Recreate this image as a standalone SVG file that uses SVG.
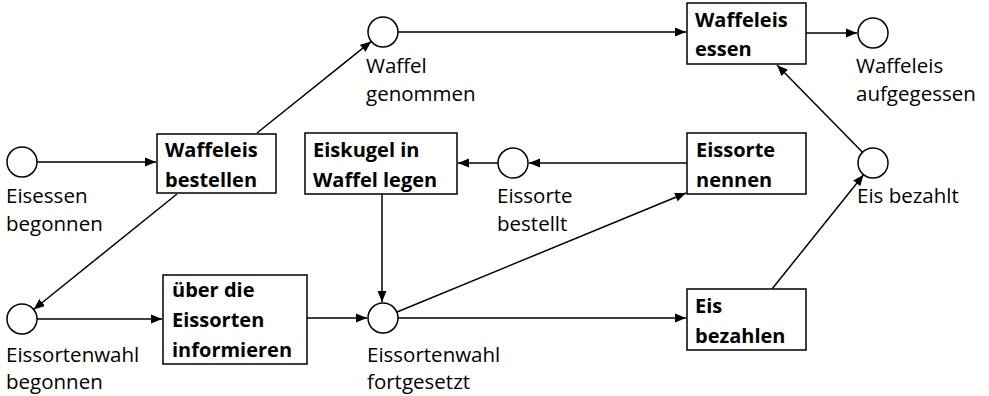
<svg xmlns="http://www.w3.org/2000/svg" width="989" height="396" viewBox="0 0 989 396">
<style>
.place{fill:#fff;stroke:#000;stroke-width:1.5}
.trans{fill:#fff;stroke:#000;stroke-width:1.5}
.tl{font-family:"Open Sans","Liberation Sans",sans-serif;font-weight:bold;font-size:20px;fill:#000}
.pl{font-family:"Open Sans","Liberation Sans",sans-serif;font-size:20.5px;fill:#000}
.arc{stroke:#000;stroke-width:1.5;fill:none;marker-end:url(#ah)}
</style>
<defs>
<marker id="ah" markerUnits="userSpaceOnUse" markerWidth="12" markerHeight="10" refX="11" refY="5" orient="auto">
<path d="M0,0.5 L11,5 L0,9.5 z" fill="#000"/>
</marker>
</defs>
<g id="connectors">
<line class="arc" x1="37" y1="162" x2="156" y2="162"/>
<line class="arc" x1="257" y1="133" x2="371.3" y2="41.4"/>
<line class="arc" x1="398" y1="32" x2="686" y2="32"/>
<line class="arc" x1="806" y1="33" x2="857" y2="33"/>
<line class="arc" x1="862.5" y1="152.3" x2="777" y2="65"/>
<line class="arc" x1="177" y1="194" x2="33.6" y2="309.5"/>
<line class="arc" x1="37" y1="319" x2="162" y2="319"/>
<line class="arc" x1="307" y1="318" x2="367" y2="318"/>
<line class="arc" x1="382" y1="194" x2="382" y2="302"/>
<line class="arc" x1="687" y1="163" x2="529" y2="163"/>
<line class="arc" x1="498" y1="163" x2="458" y2="163"/>
<line class="arc" x1="397" y1="312" x2="686" y2="193"/>
<line class="arc" x1="398" y1="318" x2="686" y2="318"/>
<line class="arc" x1="772" y1="289" x2="863.6" y2="174.7"/>
</g>
<g id="p-eisessen-begonnen">
<circle class="place" cx="22" cy="162" r="15"/>
<text class="pl" x="6" y="203">Eisessen</text>
<text class="pl" x="6" y="231">begonnen</text>
</g>
<g id="p-eissortenwahl-begonnen">
<circle class="place" cx="22" cy="319" r="15"/>
<text class="pl" x="6" y="362">Eissortenwahl</text>
<text class="pl" x="6" y="389">begonnen</text>
</g>
<g id="p-waffel-genommen">
<circle class="place" cx="383" cy="32" r="15"/>
<text class="pl" x="366" y="73">Waffel</text>
<text class="pl" x="366" y="101">genommen</text>
</g>
<g id="p-waffeleis-aufgegessen">
<circle class="place" cx="873" cy="33" r="15"/>
<text class="pl" x="856" y="73">Waffeleis</text>
<text class="pl" x="856" y="101">aufgegessen</text>
</g>
<g id="p-eis-bezahlt">
<circle class="place" cx="873" cy="163" r="15"/>
<text class="pl" x="857" y="203">Eis bezahlt</text>
</g>
<g id="p-eissorte-bestellt">
<circle class="place" cx="513" cy="163" r="15"/>
<text class="pl" x="497" y="203">Eissorte</text>
<text class="pl" x="497" y="231">bestellt</text>
</g>
<g id="p-eissortenwahl-fortgesetzt">
<circle class="place" cx="383" cy="318" r="15"/>
<text class="pl" x="367" y="362">Eissortenwahl</text>
<text class="pl" x="367" y="389">fortgesetzt</text>
</g>
<g id="t-waffeleis-bestellen">
<rect class="trans" x="157" y="134" width="119" height="59"/>
<text class="tl" x="165" y="157">Waffeleis</text>
<text class="tl" x="165" y="187">bestellen</text>
</g>
<g id="t-informieren">
<rect class="trans" x="163" y="275" width="144" height="89"/>
<text class="tl" x="172" y="297">über die</text>
<text class="tl" x="172" y="327">Eissorten</text>
<text class="tl" x="172" y="357">informieren</text>
</g>
<g id="t-waffeleis-essen">
<rect class="trans" x="687" y="3" width="119" height="61"/>
<text class="tl" x="695" y="27">Waffeleis</text>
<text class="tl" x="695" y="56">essen</text>
</g>
<g id="t-eiskugel">
<rect class="trans" x="305" y="133" width="152" height="61"/>
<text class="tl" x="313" y="157">Eiskugel in</text>
<text class="tl" x="313" y="187">Waffel legen</text>
</g>
<g id="t-eissorte-nennen">
<rect class="trans" x="687" y="133" width="119" height="61"/>
<text class="tl" x="696" y="157">Eissorte</text>
<text class="tl" x="696" y="187">nennen</text>
</g>
<g id="t-eis-bezahlen">
<rect class="trans" x="687" y="289" width="119" height="61"/>
<text class="tl" x="695" y="313">Eis</text>
<text class="tl" x="695" y="343">bezahlen</text>
</g>
</svg>
